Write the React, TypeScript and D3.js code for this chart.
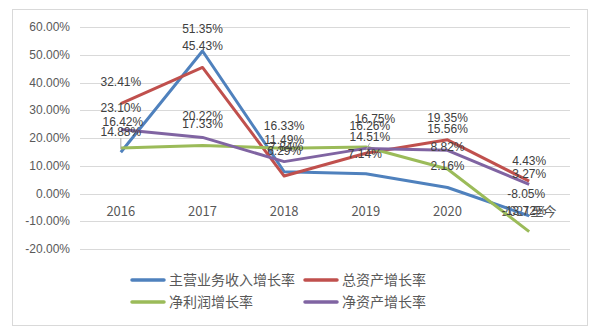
import React from "react";
import * as d3 from "d3";

const categories = ["2016", "2017", "2018", "2019", "2020", "2021至今"];
const seriesNames = ["主营业务收入增长率", "总资产增长率", "净利润增长率", "净资产增长率"];
const revenueGrowth = [14.88, 51.35, 7.84, 7.14, 2.16, -8.05];
const assetGrowth = [32.41, 45.43, 6.29, 14.51, 19.35, 4.43];
const profitGrowth = [16.42, 17.33, 16.33, 16.75, 8.82, -13.72];
const equityGrowth = [23.10, 20.22, 11.49, 16.26, 15.56, 3.27];
const yTicks = [-20, -10, 0, 10, 20, 30, 40, 50, 60];

const seriesValues = [revenueGrowth, assetGrowth, profitGrowth, equityGrowth];
const colors = ["#4F81BD", "#C0504D", "#9BBB59", "#8064A2"];

// label placement nudges (pixels) [series][category] -> [dx, dy]; default dy = -22
const labelNudge: Record<string, [number, number]> = {
  "0-0": [0, 2],
  "2-0": [2, -4],
  "0-2": [2, -3],
  "1-2": [0, -3],
  "2-3": [9, -6],
  "3-3": [4, -1],
  "1-3": [4, 6],
  "0-3": [-1, 2],
  "1-5": [0, 2],
  "3-5": [0, 11],
  "2-5": [-5, 1],
  "0-5": [-3, 0],
  "2-1": [0, 0],
};
const leaders = ["0-0", "1-3"];

export default function App() {
  const W = 611, H = 332;
  const x = d3.scaleBand<string>().domain(categories).range([80, 570]);
  const y = d3.scaleLinear().domain([-20, 60]).range([249, 27]);
  const cx = (c: string) => (x(c) as number) + x.bandwidth() / 2;
  const line = d3
    .line<number>()
    .x((_, i) => cx(categories[i]))
    .y((v) => y(v));
  const font = "'Liberation Sans', Arial, sans-serif";
  const cjk = "'Noto Sans CJK SC', 'Liberation Sans', sans-serif";

  const legendPos = [
    [132, 280],
    [305, 280],
    [132, 302],
    [305, 302],
  ];

  return (
    <svg width={W} height={H} style={{ position: "absolute", left: 0, top: 0, background: "#fff" }}>
      <rect x={12.5} y={9.5} width={575} height={316} fill="#fff" stroke="#D9D9D9" />
      {yTicks.map((t) => (
        <g key={t}>
          <line x1={80} x2={570} y1={Math.round(y(t)) + 0.5} y2={Math.round(y(t)) + 0.5} stroke="#D9D9D9" />
          <text x={70} y={y(t)} dy="0.35em" textAnchor="end" fontSize={12} fill="#595959" fontFamily={font}>
            {t.toFixed(2) + "%"}
          </text>
        </g>
      ))}
      {categories.map((c) => (
        <text key={c} x={cx(c)} y={211} dy="0.35em" textAnchor="middle" fontSize={13} fill="#595959" fontFamily={cjk}>
          {c}
        </text>
      ))}
      {seriesValues.map((vals, si) => (
        <path key={si} d={line(vals) || ""} fill="none" stroke={colors[si]} strokeWidth={3} strokeLinejoin="round" />
      ))}
      {seriesValues.map((vals, si) =>
        vals.map((v, ci) => {
          const key = `${si}-${ci}`;
          const n = labelNudge[key] || [0, 0];
          const lx = cx(categories[ci]) + n[0];
          const ly = y(v) - 22 + n[1];
          return (
            <g key={key}>
              {leaders.includes(key) && (
                <line x1={lx} y1={ly + 6} x2={cx(categories[ci])} y2={y(v) - 3} stroke="#A6A6A6" strokeWidth={1} />
              )}
              <text x={lx} y={ly} dy="0.35em" textAnchor="middle" fontSize={12} fill="#404040" fontFamily={font}>
                {v.toFixed(2) + "%"}
              </text>
            </g>
          );
        })
      )}
      {seriesNames.map((name, i) => (
        <g key={name}>
          <line
            x1={legendPos[i][0]}
            x2={legendPos[i][0] + 32}
            y1={legendPos[i][1]}
            y2={legendPos[i][1]}
            stroke={colors[i]}
            strokeWidth={3.5}
            strokeLinecap="round"
          />
          <text x={legendPos[i][0] + 37} y={legendPos[i][1]} dy="0.35em" fontSize={14} fill="#595959" fontFamily={cjk}>
            {name}
          </text>
        </g>
      ))}
    </svg>
  );
}
